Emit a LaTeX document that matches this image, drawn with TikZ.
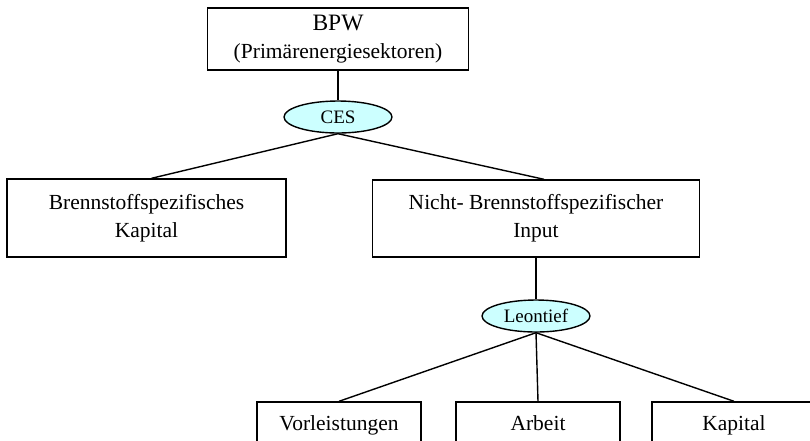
\documentclass[tikz,border=0pt]{standalone}
\usepackage{fontspec}
\setmainfont{Liberation Serif}
\usetikzlibrary{shapes.geometric,positioning}
\definecolor{funcfill}{HTML}{CCFFFF}

\begin{document}
\begin{tikzpicture}[x=1pt, y=-1pt, line width=1.4pt,
  box/.style={draw, rectangle, align=center, inner sep=0pt, font=\fontsize{21.5}{28}\selectfont},
  leaf/.style={box, minimum width=164pt, minimum height=46pt, text height=15pt, text depth=5pt},
  func/.style={draw, ellipse, fill=funcfill, inner sep=0pt, minimum width=108pt, minimum height=32pt, font=\fontsize{19}{22}\selectfont}]
  \useasboundingbox (0,0) rectangle (810,440);
  \clip (0,0) rectangle (810,440);
  % top level
  \node[box, minimum width=261pt, minimum height=62pt] (bpw) at (338,39)
    {{\fontsize{23.5}{28}\selectfont BPW}\\(Primärenergiesektoren)};
  \node[func] (ces) at (338,117) {CES};
  \node[box, minimum width=279pt, minimum height=78pt] (brs) at (146.5,218) {Brennstoffspezifisches\\Kapital};
  \node[box, minimum width=327pt, minimum height=77pt] (nbr) at (536,218.5) {Nicht- Brennstoffspezifischer\\Input};
  % lower level
  \node[func] (leo) at (536,316) {Leontief};
  \foreach \x/\n/\t in {339/vor/Vorleistungen, 538/arb/Arbeit, 734/kap/Kapital}
    \node[leaf] (\n) at (\x,425) {\t};
  \draw (bpw) -- (ces);
  \draw (ces.south) -- ([xshift=5pt]brs.north);
  \draw (ces.south) -- ([xshift=8pt]nbr.north);
  \draw (nbr) -- (leo);
  \foreach \n in {vor, arb, kap}
    \draw (leo.south) -- (\n.north);
\end{tikzpicture}
\end{document}
